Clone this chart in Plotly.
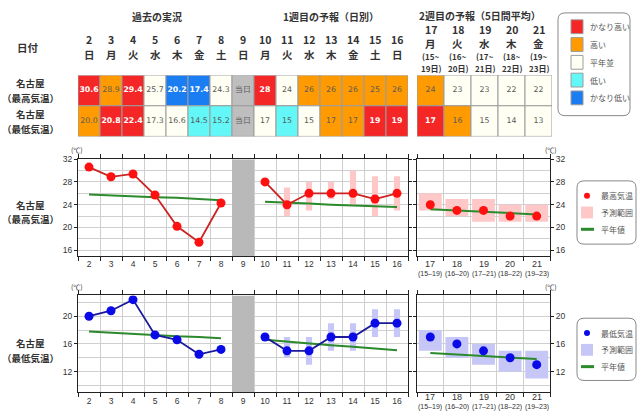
import plotly.graph_objects as go

W, H = 640, 419
JP = "Noto Sans CJK JP"
NUM = "DejaVu Sans"
TICKF = "Liberation Sans"

# ---------------- data ----------------
days = [2, 3, 4, 5, 6, 7, 8, 9, 10, 11, 12, 13, 14, 15, 16]
weekdays = ["日", "月", "火", "水", "木", "金", "土", "日", "月", "火", "水", "木", "金", "土", "日"]
past_days = [2, 3, 4, 5, 6, 7, 8]
today_day = 9
fc_days = [10, 11, 12, 13, 14, 15, 16]
wk2_days = [17, 18, 19, 20, 21]
wk2_weekdays = ["月", "火", "水", "木", "金"]
wk2_start = [15, 16, 17, 18, 19]
wk2_end = [19, 20, 21, 22, 23]

max_past = [30.6, 28.9, 29.4, 25.7, 20.2, 17.4, 24.3]
min_past = [20.0, 20.8, 22.4, 17.3, 16.6, 14.5, 15.2]
max_fc = [28, 24, 26, 26, 26, 25, 26]
min_fc = [17, 15, 15, 17, 17, 19, 19]
range_days = [11, 12, 13, 14, 15, 16]
max_fc_lo = [22, 23, 25, 24, 22, 23]
max_fc_hi = [27, 28, 28, 30, 29, 29]
min_fc_lo = [14, 13, 15, 15, 17, 17]
min_fc_hi = [17, 17, 19, 19, 21, 21]
max_wk2 = [24, 23, 23, 22, 22]
max_wk2_lo = [23, 22, 21, 21, 21]
max_wk2_hi = [26, 25, 25, 24, 24]
min_wk2 = [17, 16, 15, 14, 13]
min_wk2_lo = [15, 14, 13, 12, 11]
min_wk2_hi = [18, 17, 16, 15, 15]

norm_max_past = [25.8, 25.6, 25.5, 25.3, 25.2, 25.0, 24.8]
norm_max_fc = [24.5, 24.4, 24.2, 24.0, 23.9, 23.7, 23.6]
norm_max_wk2 = [23.2, 23.0, 22.8, 22.5, 22.3]
norm_min_past = [17.8, 17.6, 17.5, 17.3, 17.1, 17.0, 16.8]
norm_min_fc = [16.6, 16.3, 16.1, 15.8, 15.6, 15.4, 15.1]
norm_min_wk2 = [14.7, 14.5, 14.3, 14.0, 13.8]

# table categories: 0 today, 1 very low, 2 low, 3 normal, 4 high, 5 very high
max_cat = [5, 4, 5, 3, 1, 1, 3, 0, 5, 3, 4, 4, 4, 4, 4]
min_cat = [4, 5, 5, 3, 3, 2, 2, 0, 3, 2, 3, 4, 4, 5, 5]
max_cat_wk2 = [4, 3, 3, 3, 3]
min_cat_wk2 = [5, 4, 3, 3, 3]
today_label = "当日"
legend_cats = [5, 4, 3, 2, 1]
legend_names = ["かなり高い", "高い", "平年並", "低い", "かなり低い"]

# ---------------- styles ----------------
cat_colors = ["#bebebe", "#1b7df2", "#63f7f7", "#fffff3", "#ff9a00", "#f42626"]
DARK = "#333333"
CELLTXT = "#5a5a5a"
RED_LINE, RED_MK = "#cc2222", "#ff1010"
BLUE_LINE, BLUE_MK = "#1a1a9a", "#0a0ae8"
GREEN = "#2b8a2b"
PINK = "#ffc8c8"
LAV = "#c6c6f7"
GRID = "#cfcfcf"


def dom_x(a, b):
    return [a / W, b / W]


def dom_y(top, bottom):
    return [1 - bottom / H, 1 - top / H]


def A(text, x, y, size=9, color=DARK, family=JP, xanchor="center", xref="paper"):
    return dict(text=text, x=(x / W if xref == "paper" else x), y=1 - y / H,
                xref=xref, yref="paper", xanchor=xanchor, yanchor="middle",
                showarrow=False, font=dict(size=size, color=color, family=family))


fig = go.Figure()


def cell_text(v, cat, dec):
    if cat == 0:
        s = today_label
    else:
        s = f"{v:.1f}" if dec else f"{v:d}"
    if cat in (1, 5):
        return f"<b>{s}</b>", "#ffffff"
    return s, CELLTXT


def add_table_row(xs, vals, decs, cats, rowy, xa, ya):
    n = len(xs)
    fig.add_trace(go.Bar(x=xs, y=[1] * n, base=[rowy - 0.5] * n, width=[1] * n,
                         marker=dict(color=[cat_colors[c] for c in cats],
                                     line=dict(color="#9c9c9c", width=1)),
                         xaxis=xa, yaxis=ya, hoverinfo="skip", showlegend=False))
    tx, cl = [], []
    for v, d, c in zip(vals, decs, cats):
        t, col = cell_text(v, c, d)
        tx.append(t)
        cl.append(col)
    fig.add_trace(go.Scatter(x=xs, y=[rowy] * n, mode="text", text=tx,
                             textfont=dict(color=cl, size=7.8, family=NUM),
                             xaxis=xa, yaxis=ya, hoverinfo="skip", showlegend=False))


# table rows (days 2..16)
max_row_vals = max_past + [None] + max_fc
min_row_vals = min_past + [None] + min_fc
decs1 = [True] * len(past_days) + [False] + [False] * len(fc_days)
add_table_row(days, max_row_vals, decs1, max_cat, 1, "x", "y")
add_table_row(days, min_row_vals, decs1, min_cat, 0, "x", "y")
add_table_row(wk2_days, max_wk2, [False] * 5, max_cat_wk2, 1, "x2", "y2")
add_table_row(wk2_days, min_wk2, [False] * 5, min_cat_wk2, 0, "x2", "y2")


def add_chart(xa_l, ya_l, xa_r, ya_r, yr, past, fc, lo, hi, wk2, wlo, whi,
              npast, nfc, nwk2, lc, mc, rc):
    # today band
    fig.add_trace(go.Bar(x=[today_day], base=[yr[0]], y=[yr[1] - yr[0]], width=[1],
                         marker=dict(color="#b9b9b9", line=dict(width=0)),
                         xaxis=xa_l, yaxis=ya_l, hoverinfo="skip", showlegend=False))
    # ranges
    fig.add_trace(go.Bar(x=range_days, base=lo, y=[h - l for h, l in zip(hi, lo)], width=0.28,
                         marker=dict(color=rc, line=dict(width=0)),
                         xaxis=xa_l, yaxis=ya_l, hoverinfo="skip", showlegend=False))
    fig.add_trace(go.Bar(x=wk2_days, base=wlo, y=[h - l for h, l in zip(whi, wlo)], width=0.86,
                         marker=dict(color=rc, line=dict(width=0)),
                         xaxis=xa_r, yaxis=ya_r, hoverinfo="skip", showlegend=False))
    # normals
    for xs, ys, xa, ya in [(past_days, npast, xa_l, ya_l), (fc_days, nfc, xa_l, ya_l),
                           (wk2_days, nwk2, xa_r, ya_r)]:
        fig.add_trace(go.Scatter(x=xs, y=ys, mode="lines", line=dict(color=GREEN, width=2),
                                 xaxis=xa, yaxis=ya, hoverinfo="skip", showlegend=False))
    # observed / forecast
    for xs, ys in [(past_days, past), (fc_days, fc)]:
        fig.add_trace(go.Scatter(x=xs, y=ys, mode="lines+markers",
                                 line=dict(color=lc, width=1.8),
                                 marker=dict(color=mc, size=9),
                                 xaxis=xa_l, yaxis=ya_l, hoverinfo="skip", showlegend=False))
    fig.add_trace(go.Scatter(x=wk2_days, y=wk2, mode="markers",
                             marker=dict(color=mc, size=9),
                             xaxis=xa_r, yaxis=ya_r, hoverinfo="skip", showlegend=False))


add_chart("x3", "y3", "x4", "y4", [15, 32], max_past, max_fc, max_fc_lo, max_fc_hi,
          max_wk2, max_wk2_lo, max_wk2_hi, norm_max_past, norm_max_fc, norm_max_wk2,
          RED_LINE, RED_MK, PINK)
add_chart("x5", "y5", "x6", "y6", [9, 23], min_past, min_fc, min_fc_lo, min_fc_hi,
          min_wk2, min_wk2_lo, min_wk2_hi, norm_min_past, norm_min_fc, norm_min_wk2,
          BLUE_LINE, BLUE_MK, LAV)

# ---------------- axes ----------------
TAB_L = dom_x(78, 408)
TAB_R = dom_x(417, 552)
CH_L = dom_x(78, 408)
CH_R = dom_x(417, 550)
TAB_Y = dom_y(71, 133)
CH1_Y = dom_y(156, 254)
CH2_Y = dom_y(294, 392)

tickfont = dict(family=TICKF, size=8.5, color=DARK)


def xchart(dom, anchor, rng, labels):
    d = dict(domain=dom, anchor=anchor, range=rng, showgrid=False, zeroline=False,
             ticks="", showline=True, linecolor="#222", linewidth=1, mirror="allticks",
             tickfont=tickfont,
             minor=dict(tick0=0.5, dtick=1, ticks="outside", ticklen=4, tickcolor="#222",
                        showgrid=True, gridcolor=GRID, gridwidth=1))
    if labels:
        d.update(tickmode="array", tickvals=days, ticktext=[str(v) for v in days])
    else:
        d.update(showticklabels=False)
    return d


def ychart(dom, anchor, rng, tv, side):
    return dict(domain=dom, anchor=anchor, range=rng, side=side, zeroline=False,
                tickmode="array", tickvals=tv, ticks="outside", ticklen=3, tickcolor="#222",
                showgrid=True, gridcolor=GRID, showline=True, linecolor="#222", linewidth=1,
                mirror="allticks", tickfont=tickfont,
                minor=dict(tick0=0, dtick=2, showgrid=True, gridcolor=GRID, ticks=""))


fig.update_layout(
    width=W, height=H, margin=dict(l=0, r=0, t=0, b=0),
    paper_bgcolor="white", plot_bgcolor="white", barmode="overlay", showlegend=False,
    xaxis=dict(domain=TAB_L, anchor="y", range=[1.5, 16.5], visible=False),
    yaxis=dict(domain=TAB_Y, anchor="x", range=[-0.5, 1.5], visible=False),
    xaxis2=dict(domain=TAB_R, anchor="y2", range=[16.5, 21.5], visible=False),
    yaxis2=dict(domain=TAB_Y, anchor="x2", range=[-0.5, 1.5], visible=False),
    xaxis3=xchart(CH_L, "y3", [1.5, 16.5], True),
    yaxis3=ychart(CH1_Y, "x3", [15, 32], [16, 20, 24, 28, 32], "left"),
    xaxis4=xchart(CH_R, "y4", [16.5, 21.5], False),
    yaxis4=ychart(CH1_Y, "x4", [15, 32], [16, 20, 24, 28, 32], "right"),
    xaxis5=xchart(CH_L, "y5", [1.5, 16.5], True),
    yaxis5=ychart(CH2_Y, "x5", [9, 23], [12, 16, 20], "left"),
    xaxis6=xchart(CH_R, "y6", [16.5, 21.5], False),
    yaxis6=ychart(CH2_Y, "x6", [9, 23], [12, 16, 20], "right"),
)

# ---------------- annotations ----------------
ann = []
ann.append(A("<b>過去の実況</b>", 157, 12, 10))
ann.append(A("<b>1週目の予報（日別）</b>", 331, 12, 10))
ann.append(A("<b>2週目の予報（5日間平均）</b>", 480, 11, 10))
ann.append(A("<b>日付</b>", 28, 43, 10.5))
for d, w in zip(days, weekdays):
    ann.append(A(f"<b>{d}</b>", d, 35, 10.5, xref="x"))
    ann.append(A(f"<b>{w}</b>", d, 50, 10.5, xref="x"))
for d, w, s, e in zip(wk2_days, wk2_weekdays, wk2_start, wk2_end):
    ann.append(A(f"<b>{d}</b>", d, 25, 10.5, xref="x2"))
    ann.append(A(f"<b>{w}</b>", d, 39, 10.5, xref="x2"))
    ann.append(A(f"<b>({s}~</b>", d, 52, 8, xref="x2"))
    ann.append(A(f"<b>{e}日)</b>", d, 64, 8, xref="x2"))
for d, s, e in zip(wk2_days, wk2_start, wk2_end):
    for yy in (262, 397):
        ann.append(A(str(d), d, yy, 9, family=TICKF, xref="x4" if yy < 300 else "x6"))
        ann.append(A(f"({s}–{e})", d, yy + 10, 7, family=TICKF, xref="x4" if yy < 300 else "x6"))

for (y1, y2, lab) in [(79, 94, "（最高気温）"), (110, 125, "（最低気温）"),
                      (202, 217, "（最高気温）"), (342, 357, "（最低気温）")]:
    ann.append(A("<b>名古屋</b>", 30, y1, 9.5))
    ann.append(A(f"<b>{lab}</b>", 30, y2, 9.5))

for x, y in [(77, 147), (551, 147), (77, 285), (551, 285)]:
    ann.append(A("(℃)", x, y, 7, family=JP))

# table legend
shapes = []


def rrect(x0, y0, x1, y1, r):
    P = lambda x, y: f"{x / W:.5f},{1 - y / H:.5f}"
    return ("M " + P(x0 + r, y0) + " L " + P(x1 - r, y0) + " Q " + P(x1, y0) + " " + P(x1, y0 + r) +
            " L " + P(x1, y1 - r) + " Q " + P(x1, y1) + " " + P(x1 - r, y1) +
            " L " + P(x0 + r, y1) + " Q " + P(x0, y1) + " " + P(x0, y1 - r) +
            " L " + P(x0, y0 + r) + " Q " + P(x0, y0) + " " + P(x0 + r, y0) + " Z")


def prect(x0, y0, x1, y1, fill, line=None):
    return dict(type="rect", xref="paper", yref="paper", x0=x0 / W, x1=x1 / W,
                y0=1 - y1 / H, y1=1 - y0 / H, fillcolor=fill,
                line=dict(color=line or fill, width=1 if line else 0), layer="above")


shapes.append(dict(type="path", path=rrect(558, 8, 630, 112, 7), xref="paper", yref="paper",
                   line=dict(color="#888", width=1), fillcolor="white", layer="below"))
for i, (c, nm) in enumerate(zip(legend_cats, legend_names)):
    cy = 22 + i * 18
    shapes.append(prect(571, cy - 7, 583, cy + 7, cat_colors[c], "#9c9c9c"))
    ann.append(A(nm, 588, cy, 8, color="#555", xanchor="left"))

# chart legends
for (top, bot, mk, sq, nm) in [(178, 242, RED_MK, PINK, "最高気温"), (317, 380, BLUE_MK, LAV, "最低気温")]:
    shapes.append(dict(type="path", path=rrect(577, top, 636, bot, 7), xref="paper", yref="paper",
                       line=dict(color="#888", width=1), fillcolor="white", layer="below"))
    y1, y2, y3 = top + 15, top + 32, top + 49
    shapes.append(dict(type="circle", xref="paper", yref="paper", x0=584 / W, x1=590 / W,
                       y0=1 - (y1 + 3) / H, y1=1 - (y1 - 3) / H, fillcolor=mk,
                       line=dict(width=0), layer="above"))
    shapes.append(prect(581, y2 - 6, 593, y2 + 6, sq))
    shapes.append(dict(type="line", xref="paper", yref="paper", x0=581 / W, x1=594 / W,
                       y0=1 - y3 / H, y1=1 - y3 / H, line=dict(color=GREEN, width=3), layer="above"))
    ann.append(A(nm, 599, y1, 8, color="#555", xanchor="left"))
    ann.append(A("予測範囲", 599, y2, 8, color="#555", xanchor="left"))
    ann.append(A("平年値", 599, y3, 8, color="#555", xanchor="left"))

fig.update_layout(annotations=ann, shapes=shapes)
fig.write_html("out.html")
